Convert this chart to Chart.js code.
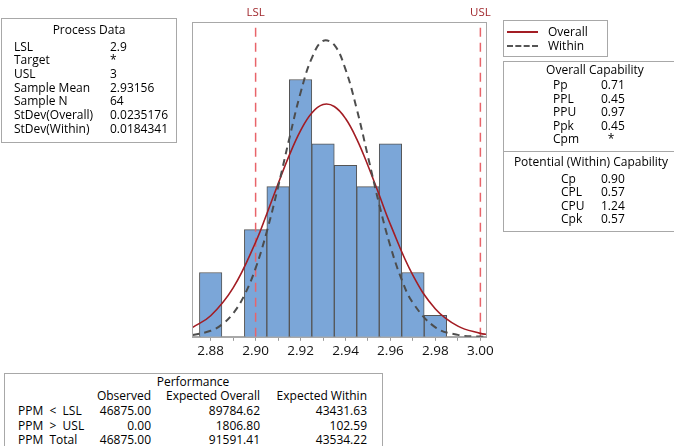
<!DOCTYPE html>
<html>
<head>
<meta charset="utf-8">
<script src="https://cdn.jsdelivr.net/npm/chart.js@4"></script>
<style>
    body { margin: 0; background: #fff; }
    #wrap { position: relative; width: 674px; height: 446px; overflow: hidden; font-family: "Open Sans", sans-serif; font-size: 12px; color: #000; }
    #chart { position: absolute; left: 0; top: 0; }
    .box { position: absolute; border: 1px solid #a8a8a8; background: #fff; }
    .t { position: absolute; white-space: pre; line-height: 14px; }
</style>
</head>
<body>
<div id="wrap">
    <canvas id="chart" width="674" height="446"></canvas>
</div>
<script>
// histogram
const binCenters = [2.88, 2.89, 2.90, 2.91, 2.92, 2.93, 2.94, 2.95, 2.96, 2.97, 2.98];
const binCounts = [3, 0, 5, 7, 12, 9, 8, 7, 9, 3, 1];

// fitted curves (expected counts per bin)
const overallX = [2.872, 2.88, 2.89, 2.90, 2.905, 2.91, 2.915, 2.92, 2.925, 2.93, 2.935, 2.94, 2.945, 2.95, 2.955, 2.96, 2.97, 2.98, 2.99, 3.00, 3.003];
const overallY = [0.44, 0.98, 2.28, 4.41, 5.74, 7.13, 8.47, 9.62, 10.44, 10.83, 10.74, 10.18, 9.22, 7.98, 6.61, 5.23, 2.86, 1.30, 0.50, 0.16, 0.11];
const withinX = [2.872, 2.88, 2.885, 2.89, 2.895, 2.90, 2.905, 2.91, 2.915, 2.92, 2.925, 2.93, 2.935, 2.94, 2.945, 2.95, 2.955, 2.96, 2.965, 2.97, 2.98, 2.99, 3.00, 3.003];
const withinY = [0.08, 0.28, 0.57, 1.09, 1.94, 3.20, 4.91, 6.99, 9.25, 11.38, 13.00, 13.80, 13.61, 12.47, 10.62, 8.40, 6.17, 4.21, 2.67, 1.58, 0.44, 0.09, 0.01, 0.01];

const lsl = 2.9;
const usl = 3.0;
const xTicks = [2.88, 2.89, 2.90, 2.91, 2.92, 2.93, 2.94, 2.95, 2.96, 2.97, 2.98, 2.99, 3.00];
const xTickLabels = ["2.88", "", "2.90", "", "2.92", "", "2.94", "", "2.96", "", "2.98", "", "3.00"];

// side tables
const processLabels = ["LSL", "Target", "USL", "Sample Mean", "Sample N", "StDev(Overall)", "StDev(Within)"];
const processValues = ["2.9", "*", "3", "2.93156", "64", "0.0235176", "0.0184341"];
const overallCapLabels = ["Pp", "PPL", "PPU", "Ppk", "Cpm"];
const overallCapValues = ["0.71", "0.45", "0.97", "0.45", "*"];
const withinCapLabels = ["Cp", "CPL", "CPU", "Cpk"];
const withinCapValues = ["0.90", "0.57", "1.24", "0.57"];
const perfColumns = ["Observed", "Expected Overall", "Expected Within"];
const perfRows = ["PPM  <  LSL", "PPM  >  USL", "PPM  Total"];
const perfObserved = ["46875.00", "0.00", "46875.00"];
const perfOverall = ["89784.62", "1806.80", "91591.41"];
const perfWithin = ["43431.63", "102.59", "43534.22"];

const wrap = document.getElementById("wrap");

function box(x, y, w, h) {
    const d = document.createElement("div");
    d.className = "box";
    Object.assign(d.style, { left: x + "px", top: y + "px", width: w + "px", height: h + "px" });
    wrap.appendChild(d);
    return d;
}

function text(str, x, cy, align) {
    const d = document.createElement("div");
    d.className = "t";
    d.textContent = str;
    d.style.top = (cy - 7) + "px";
    if (align === "right") {
        d.style.right = (674 - x) + "px";
    } else if (align === "center") {
        d.style.left = (x - 150) + "px";
        d.style.width = "300px";
        d.style.textAlign = "center";
    } else {
        d.style.left = x + "px";
    }
    wrap.appendChild(d);
    return d;
}

// Process Data
box(1, 18, 174, 123);
text("Process Data", 89, 30, "center");
processLabels.forEach((l, i) => {
    text(l, 14, 46.5 + i * 13.7, "left");
    text(processValues[i], 110, 46.5 + i * 13.7, "left");
});

// legend
box(503, 20, 103, 35);
const legLine = document.createElement("div");
Object.assign(legLine.style, { position: "absolute", left: "507px", top: "31px", width: "31px", borderTop: "2px solid #a31d24" });
wrap.appendChild(legLine);
const legDash = document.createElement("div");
Object.assign(legDash.style, { position: "absolute", left: "507px", top: "45px", width: "31px", borderTop: "2px dashed #555" });
wrap.appendChild(legDash);
text("Overall", 548, 31.5, "left");
text("Within", 548, 45.5, "left");

// capability
box(503, 61, 184, 169);
const div = document.createElement("div");
Object.assign(div.style, { position: "absolute", left: "503px", top: "151px", width: "186px", borderTop: "1px solid #a8a8a8" });
wrap.appendChild(div);
text("Overall Capability", 595, 70, "center");
overallCapLabels.forEach((l, i) => {
    text(l, 553, 85 + i * 13.6, "left");
    const v = overallCapValues[i];
    if (v === "*") text(v, 611, 85 + i * 13.6, "center");
    else text(v, 601, 85 + i * 13.6, "left");
});
text("Potential (Within) Capability", 591, 161.5, "center");
withinCapLabels.forEach((l, i) => {
    text(l, 561, 178.5 + i * 13.5, "left");
    text(withinCapValues[i], 601, 178.5 + i * 13.5, "left");
});

// performance
box(4, 373, 377, 90);
text("Performance", 193, 382, "center");
const perfRight = [151, 260, 367];
perfColumns.forEach((c, i) => text(c, perfRight[i], 396, "right"));
const perfCols = [perfObserved, perfOverall, perfWithin];
perfRows.forEach((r, j) => {
    const cy = 411 + j * 14.5;
    text(r, 18, cy, "left");
    perfCols.forEach((col, i) => text(col[j], perfRight[i], cy, "right"));
});

// frame + spec labels
const framePlugin = {
    id: "frame",
    afterDraw(chart) {
        const { ctx, chartArea: a, scales } = chart;
        ctx.save();
        ctx.strokeStyle = "#a8a8a8";
        ctx.lineWidth = 1;
        ctx.strokeRect(Math.round(a.left) + 0.5, Math.round(a.top) + 0.5, Math.round(a.width), Math.round(a.height));
        ctx.fillStyle = "#a0282d";
        ctx.font = "11.5px 'Open Sans', sans-serif";
        ctx.textAlign = "center";
        ctx.textBaseline = "middle";
        ctx.fillText("LSL", scales.x.getPixelForValue(lsl), 13);
        ctx.fillText("USL", scales.x.getPixelForValue(usl), 13);
        ctx.restore();
    },
};

const yMax = 14.68;
const pts = (xs, ys) => xs.map((x, i) => ({ x, y: ys[i] }));

new Chart(document.getElementById("chart"), {
    type: "bar",
    data: {
        datasets: [
            {
                type: "line",
                label: "Within",
                data: pts(withinX, withinY),
                borderColor: "#4d4d4d",
                borderWidth: 2,
                borderDash: [7, 5],
                pointRadius: 0,
                tension: 0.4,
                order: 1,
            },
            {
                type: "line",
                label: "Overall",
                data: pts(overallX, overallY),
                borderColor: "#a31d24",
                borderWidth: 1.6,
                pointRadius: 0,
                tension: 0.4,
                order: 1,
            },
            {
                type: "line",
                label: "LSL",
                data: [{ x: lsl, y: 0 }, { x: lsl, y: yMax }],
                borderColor: "#e8646a",
                borderWidth: 1.5,
                borderDash: [9, 6],
                pointRadius: 0,
                order: 2,
            },
            {
                type: "line",
                label: "USL",
                data: [{ x: usl, y: 0 }, { x: usl, y: yMax }],
                borderColor: "#e8646a",
                borderWidth: 1.5,
                borderDash: [9, 6],
                pointRadius: 0,
                order: 2,
            },
            {
                label: "Counts",
                data: pts(binCenters, binCounts),
                backgroundColor: "#7ba6d8",
                borderColor: "#555",
                borderWidth: 1,
                barPercentage: 1,
                categoryPercentage: 1,
                order: 3,
            },
        ],
    },
    options: {
        responsive: false,
        animation: false,
        layout: { padding: { left: 192, right: 188, top: 22, bottom: 85 } },
        scales: {
            x: {
                type: "linear",
                offset: false,
                min: 2.8717,
                max: 3.0025,
                afterBuildTicks: (s) => { s.ticks = xTicks.map((v) => ({ value: v })); },
                afterFit: (s) => { s.paddingLeft = 0; s.paddingRight = 0; },
                ticks: {
                    autoSkip: false,
                    maxRotation: 0,
                    padding: 2,
                    color: "#111",
                    font: { family: "'Open Sans', sans-serif", size: 13.5 },
                    callback: (v, i) => xTickLabels[i],
                },
                grid: { drawOnChartArea: false, offset: false, tickLength: 4, color: "#999" },
                border: { color: "#a8a8a8" },
            },
            y: { display: false, min: 0, max: yMax },
        },
        plugins: {
            legend: { display: false },
            tooltip: { enabled: false },
        },
    },
    plugins: [framePlugin],
});
</script>
</body>
</html>
